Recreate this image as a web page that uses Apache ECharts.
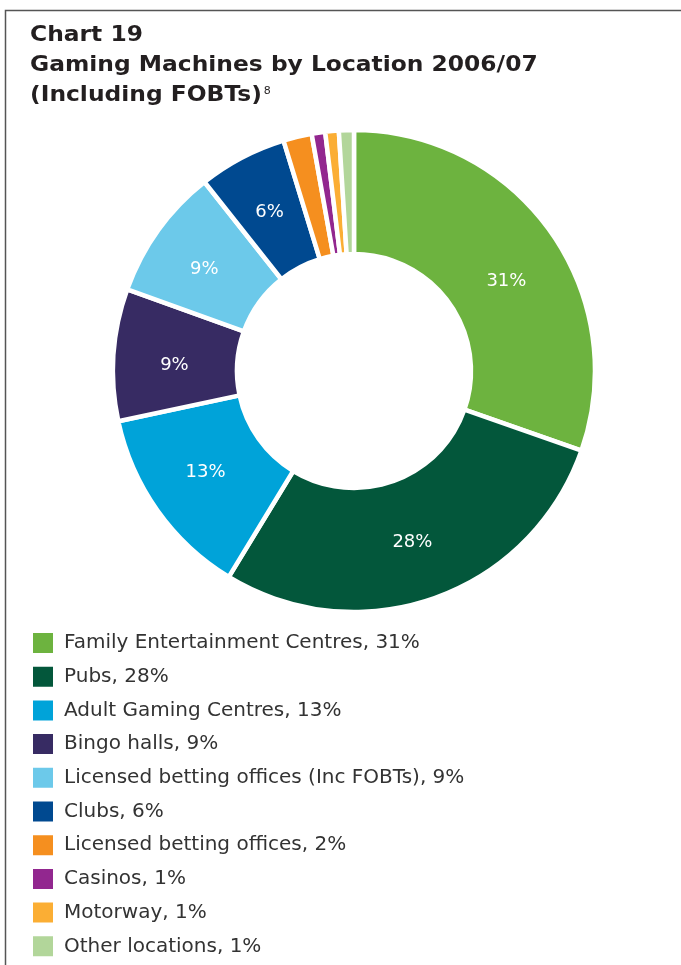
<!DOCTYPE html>
<html><head><meta charset="utf-8">
<script src="https://cdn.jsdelivr.net/npm/echarts@6/dist/echarts.min.js"></script>
<style>html,body{margin:0;padding:0;background:#fff}#c{width:681px;height:965px}</style>
</head><body><div id="c"></div>
<script>
const categories = ["Family Entertainment Centres","Pubs","Adult Gaming Centres","Bingo halls","Licensed betting offices (Inc FOBTs)","Clubs","Licensed betting offices","Casinos","Motorway","Other locations"];
const values = [30.2, 28.2, 12.9, 8.8, 8.8, 5.9, 1.9, 0.9, 0.9, 1.0];
const pctLabels = ["31%","28%","13%","9%","9%","6%","2%","1%","1%","1%"];
const showSliceLabel = [true,true,true,true,true,true,false,false,false,false];
const colors = ["#6DB33F","#03573B","#00A3D9","#372B63","#6CC9EA","#004990","#F58F1F","#92278F","#FBAE34","#B2D69A"];
const titleLines = ["Chart 19","Gaming Machines by Location 2006/07","(Including FOBTs)"];
const titleNote = "8";

const FONT = '"DejaVu Sans", sans-serif';
const TFONT = 'bold 20.5px ' + FONT;
const TSCALE = 1.14;
const ctx = document.createElement('canvas').getContext('2d');
ctx.font = TFONT;
const line3W = ctx.measureText(titleLines[2]).width * TSCALE;

const labelOffsets = [[4,16],[-3,0],[0,-4],[2,7],[-2,5],[0,3]];

function titleText(t, y){
  return {type:'text', x:30, y:y, scaleX:TSCALE, originX:0, originY:0,
          style:{text:t, font:TFONT, fill:'#231F20'}};
}

const chart = echarts.init(document.getElementById('c'), null, {renderer:'canvas'});
chart.setOption({
  animation:false,
  color: colors,
  graphic:[
    {type:'polyline', shape:{points:[[5.5,965],[5.5,10.5],[681,10.5]]}, style:{stroke:'#555', lineWidth:1.5, fill:null}},
    titleText(titleLines[0], 25),
    titleText(titleLines[1], 55),
    titleText(titleLines[2], 85),
    {type:'text', x:30 + line3W + 2, y:86, style:{text:titleNote, font:'11px ' + FONT, fill:'#231F20'}}
  ],
  legend:{
    orient:'vertical', left:26, top:626, itemWidth:22, itemHeight:22, itemGap:9.7,
    icon:'rect', selectedMode:false, height:400,
    textStyle:{fontSize:20, lineHeight:22, color:'#333', fontFamily:FONT, padding:[0,0,0,5]},
    formatter: n => n + ', ' + pctLabels[categories.indexOf(n)],
    data: categories
  },
  series:[{
    type:'pie', center:[354,371], radius:[117,241], startAngle:90, clockwise:true,
    avoidLabelOverlap:false,
    itemStyle:{borderColor:'#fff', borderWidth:4.5},
    label:{show:true, position:'inside', color:'#fff', fontSize:18, fontFamily:FONT,
      formatter: p => pctLabels[p.dataIndex]},
    labelLine:{show:false},
    emphasis:{disabled:true},
    data: categories.map((n,i)=>({name:n, value:values[i],
      label:{show:showSliceLabel[i], offset: labelOffsets[i] || [0,0]}}))
  }]
});
</script></body></html>
